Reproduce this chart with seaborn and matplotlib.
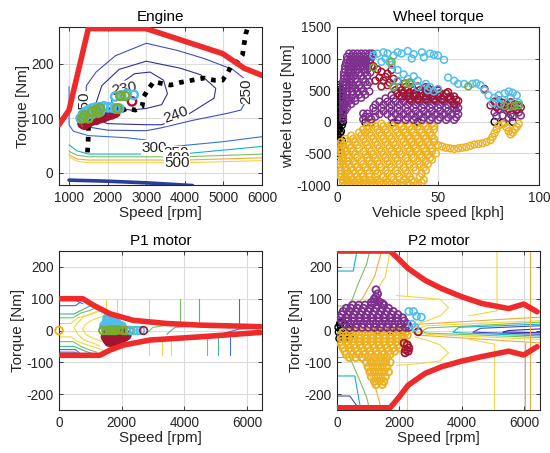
import matplotlib
matplotlib.use("Agg")
import matplotlib.pyplot as plt
import seaborn as sns

sns.set_theme(style="whitegrid")
plt.rcParams['font.family'] = ['Liberation Sans', 'DejaVu Sans']
plt.rcParams['axes.unicode_minus'] = False

# ---------------- colours ----------------
LBLUE = '#4DBEEE'; DRED = '#A2142F'; GREEN = '#77AC30'; PURPLE = '#7E2F8E'
YELLOW = '#EDB120'; BLACK = '#000000'; LIMIT = '#EE2A2A'
PB_DARK = '#30309a'; PB_BLUE = '#3f4fc0'; PB_MID = '#3a6fd8'; PB_CYAN = '#18b0cc'
PB_TEAL = '#3bb89e'; PB_GREEN = '#79c25a'; PB_ORANGE = '#f2a93b'; PB_YELLOW = '#f0d743'

# ---------------- ENGINE data ----------------
eng_max_speed = [740, 1000, 1500, 3000, 4980, 5540, 6000]
eng_max_torque = [88, 115, 265, 265, 219, 192, 179]
eng_min_speed = [1000, 2000, 3000, 4200]
eng_min_torque = [-14, -16, -19, -24]
ool_speed = [1477, 1503, 1503, 1750, 2068, 2300, 2502, 2719, 2892, 2936, 3066, 3196, 3413, 3630,
             3891, 4194, 4498, 4759, 4976, 5106, 5193, 5366, 5497, 5540, 5583, 5644]
ool_torque = [37, 71, 92, 100, 106, 112, 118, 115, 121, 140, 155, 167, 164, 161,
              166, 170, 174, 170, 170, 183, 195, 204, 217, 238, 256, 270]
bsfc230_s = [2150, 2080, 2300, 2700, 3100, 3450, 3550, 3400, 3000, 2600, 2150]
bsfc230_t = [120, 140, 162, 182, 185, 170, 145, 125, 118, 115, 120]
bsfc240_s = [1700, 2000, 3000, 3400, 4064, 4759, 4802, 4411, 3891, 3000, 2300, 1850, 1700, 1700]
bsfc240_t = [98, 90, 88, 88, 106, 137, 155, 180, 192, 205, 190, 160, 128, 98]
bsfc250_s = [1420, 1480, 2000, 3000, 3370, 4200, 5106, 5453, 5570, 5590, 5453, 5236, 4498, 3800, 3000, 2200, 1700, 1450, 1420]
bsfc250_t = [115, 84, 78, 77, 82, 96, 109, 115, 130, 170, 178, 190, 210, 225, 238, 215, 185, 160, 115]
bsfc300_s = [1000, 1000, 1110, 1500, 2500, 2980, 3196, 3717, 5019, 6000]
bsfc300_t = [158, 88, 76, 68, 64, 60, 47, 48, 57, 66]
bsfc350_s = [1000, 1200, 1503, 3000, 4064, 6000]
bsfc350_t = [51, 40, 34, 34, 35, 48]
bsfc400_s = [1000, 1200, 1503, 4000, 6000]
bsfc400_t = [39, 32, 29, 29, 34]
bsfc450_s = [1000, 1200, 1500, 4000, 6000]
bsfc450_t = [33, 25, 23, 23, 27]
bsfc500_s = [1000, 1200, 1500, 4000, 6000]
bsfc500_t = [29, 21, 18, 18, 22]
bsfc_labels = ['230', '240', '250', '250', '300', '350', '400', '500']
bsfc_label_s = [2420, 3760, 5580, 1390, 3200, 3780, 3800, 3800]
bsfc_label_t = [155, 106, 150, 126, 46, 36, 27, 17]
bsfc_label_rot = [10, 20, 90, 90, 0, 0, 0, 0]

eng_red_s = [1350, 1400, 1450, 1500, 1550, 1600, 1650, 1700, 1750, 1800, 1850, 1900, 1950, 2000, 2050, 2100, 2150, 2200, 1420, 2198, 2632]
eng_red_t = [90, 88, 92, 92, 95, 96, 98, 97, 100, 100, 104, 102, 106, 105, 110, 107, 112, 110, 96, 115, 131]
eng_blue_s = [1300, 1350, 1400, 1450, 1500, 1550, 1600, 1650, 1700, 1750, 1800, 1900, 2000, 2100, 2200, 2300, 1400, 1600, 1800, 2198, 2350, 2500, 2675]
eng_blue_t = [100, 105, 110, 112, 115, 110, 118, 112, 120, 115, 120, 122, 120, 120, 118, 118, 102, 108, 112, 140, 142, 145, 143]
eng_green_s = [1350, 1400, 1503, 1600, 1700, 1750, 1800, 2250, 2328, 2458]
eng_green_t = [100, 105, 100, 112, 115, 110, 118, 118, 141, 141]

# ---------------- WHEEL data ----------------
wh_purple_x = [6, 8, 10, 12, 14, 16, 17.5, 5, 7, 9, 11, 13, 15, 17, 5, 6.5, 8.5, 10.5, 12.5, 14.5, 16.5,
               4.5, 6, 8, 10, 12, 14, 16, 4, 5.5, 7.5, 9.5, 11.5, 13.5, 15.5, 17, 4, 6, 8, 10, 13, 15,
               3.5, 5.5, 7, 9, 11, 14, 16.5, 3.5, 5, 6.5, 8, 12, 15, 3.5, 5, 7, 9, 13, 3, 4.5, 6.5, 10, 14, 16,
               3, 4.5, 6, 8, 11, 15, 3, 4.5, 7, 9, 12, 3, 5, 7.5, 10, 13, 16, 3, 5, 8, 11, 14, 3, 4.5, 7, 9, 12,
               3, 5, 6, 9, 3, 4, 7, 3, 5, 3, 4, 3, 13, 15, 3, 14, 16, 19, 3, 13, 17,
               27, 31, 35, 39, 43, 47, 24, 28, 32, 36, 40, 44, 48, 52, 56, 21, 25, 29, 33, 37, 41, 45, 49, 53, 57,
               19, 23, 27, 31, 35, 39, 43, 47, 51, 55, 59, 18, 22, 26, 30, 34, 38, 42, 46, 50, 54, 58, 60,
               19, 23, 27, 31, 35, 39, 43, 47, 51, 55, 59, 21, 25, 29, 33, 37, 41, 45, 49, 53, 57, 60,
               27, 31, 35, 39, 43, 47, 51, 55, 59, 30, 34, 38, 42, 46, 50, 54, 58,
               78, 80, 82, 84, 86, 88, 90, 85, 81, 87, 89, 83, 79, 91]
wh_purple_y = [1080] * 7 + [1030] * 7 + [980] * 7 + [930] * 7 + [880] * 8 + [830] * 6 + [780] * 7 + [730] * 6 + [680] * 5 + \
              [630] * 6 + [580] * 6 + [530] * 5 + [480] * 6 + [430] * 5 + [380] * 5 + [330] * 4 + [280] * 3 + [230] * 2 + [180] * 2 + \
              [130] * 3 + [80] * 4 + [40] * 3 + \
              [420] * 6 + [370] * 9 + [320] * 10 + [270] * 11 + [220] * 12 + [170] * 11 + [120] * 11 + [70] * 9 + [30] * 8 + \
              [150, 200, 100, 180, 120, 220, 150, 60, 250, 80, 200, 230, 90, 100]

wh_yellow_x = [4, 6, 8, 10, 12, 14, 16, 18, 20, 22, 24, 26, 28, 30, 33, 36, 40,
               3, 5, 7, 9, 11, 13, 15, 17, 19, 21, 23, 25, 29, 32, 35, 38, 42,
               3, 5, 8, 11, 14, 17, 20, 24, 28, 33, 37, 43,
               2, 4, 7, 10, 13, 16, 19, 23, 27, 31, 36, 41,
               2, 4, 6, 9, 12, 16, 20, 25, 30, 35, 42,
               2, 5, 8, 11, 15, 19, 24, 29, 34, 39, 44,
               1.5, 4, 7, 10, 14, 18, 22, 27, 33, 38, 43,
               1.5, 3, 6, 9, 13, 17, 21, 26, 31, 36, 41, 45,
               1, 3, 5, 8, 12, 16, 20, 25, 30, 35, 40, 44,
               1, 3, 6, 10, 15, 19, 24, 29, 34, 38, 42, 46,
               1, 2.5, 5, 9, 14, 18, 23, 28, 32, 37, 41, 45,
               1, 2, 4, 8, 13, 17, 22, 27, 31, 36, 40, 44, 47,
               1, 2, 4, 7, 11, 16, 21, 26, 30, 35, 39, 43, 47,
               1, 3, 6, 10, 15, 20, 25, 29, 34, 38, 42, 46,
               2, 5, 9, 14, 19, 24, 28, 33, 37, 41, 45, 48,
               4, 8, 13, 18, 23, 27, 32, 36, 40, 44, 48,
               7, 12, 17, 22, 26, 31, 35, 39, 43, 47,
               11, 14, 16, 21, 25, 30, 34, 38, 42, 46,
               13, 15, 20, 24, 29, 33, 37, 41, 45, 48,
               15, 19, 23, 28, 32, 36, 40, 44, 48,
               17, 22, 27, 31, 35, 39, 43, 47,
               50, 52, 54, 56, 58, 60, 62, 64, 66, 68, 70, 72, 74, 76, 77, 78, 79, 80, 82, 84, 85, 86, 87, 88, 89, 90, 83, 49, 47]
wh_yellow_y = [-1000] * 17 + [-960] * 17 + [-920] * 12 + [-870] * 12 + [-820] * 11 + [-770] * 11 + [-720] * 11 + \
              [-670] * 12 + [-620] * 12 + [-570] * 12 + [-520] * 12 + [-470] * 13 + [-420] * 13 + [-370] * 12 + \
              [-320] * 12 + [-270] * 11 + [-220] * 10 + [-170] * 10 + [-120] * 10 + [-70] * 9 + [-30] * 8 + \
              [-370, -390, -410, -420, -430, -420, -410, -400, -380, -360, -350, -340, -320, -290, -240, -180, -120,
               -60, -40, -90, -150, -200, -170, -120, -80, -30, -20, -500, -600]

wh_red_x = [28, 31, 34, 37, 40, 44, 29, 32, 35, 38, 41, 44, 47, 50, 30, 33, 36, 39, 42, 45, 48, 51, 54,
            32, 35, 38, 41, 44, 47, 50, 53, 56, 58, 36, 40, 44, 48, 52, 56, 59,
            18, 20, 22, 25, 27, 24, 21, 19, 23, 26, 28, 30, 25, 22, 33, 36, 40, 45, 50, 55, 60, 58,
            73, 76, 78, 80, 82, 84, 86, 88, 90, 79, 85, 89, 91]
wh_red_y = [550] * 6 + [500] * 8 + [450] * 9 + [400] * 10 + [350] * 7 + \
           [880, 830, 790, 760, 820, 710, 700, 650, 650, 620, 680, 640, 580, 560, 600, 620, 560, 530, 500, 470, 330, 280,
            520, 260, 320, 340, 300, 270, 310, 280, 260, 230, 200, 190, 230]

wh_blue_x = [18, 20, 23, 25, 28, 30, 32, 35, 38, 43, 48, 50, 53, 22, 27, 30, 33, 35, 38, 40, 44, 46, 48, 50, 30, 28,
             40, 36, 45, 55, 58, 60, 63, 67, 69, 71, 73, 75, 78, 80, 83, 85, 87, 89, 86, 82, 90, 77, 81, 24, 26, 37, 42, 46]
wh_blue_y = [1050, 1080, 1100, 1080, 1050, 1100, 1080, 1120, 1070, 1020, 1060, 1050, 980, 950, 900, 820, 750, 680, 720,
             650, 600, 550, 480, 520, 650, 550, 550, 600, 500, 700, 650, 600, 600, 600, 610, 580, 500, 420, 380, 420, 450,
             480, 460, 420, 380, 350, 300, 300, 280, 1000, 950, 1000, 1100, 1080]

wh_green_x = [18, 27, 28, 34, 36, 65, 83, 86, 88, 90]
wh_green_y = [860, 950, 560, 610, 620, 560, 250, 240, 250, 260]

wh_black_x = [0.5, 1, 0.5, 1.5, 0.5, 1, 0.5, 1.5, 0.5, 1, 0.5, 1.5, 0.5, 1, 0.5, 1.5, 0.5, 1, 0.5, 1.5, 0.5, 1, 0.5, 1.5,
              0.5, 1, 0.5, 1, 2.5, 3, 2.5, 2, 2, 3, 2, 2.5,
              14, 17, 28, 40, 78, 82, 87]
wh_black_y = [580, 540, 500, 460, 420, 380, 340, 300, 260, 220, 180, 140, 100, 60, 20, -20, -60, -100, -140, -180, -220,
              -260, -300, -340, -380, -420, -460, -500, 50, 0, -50, 150, -150, 300, 400, -300,
              -10, -15, -15, 0, 0, -10, 0]

# ---------------- P1 motor data ----------------
p1_up_s = [0, 760, 1090, 1620, 2370, 3440, 4500, 6430]
p1_up_t = [100, 100, 80, 53, 32, 22, 17, 12]
p1_lo_s = [0, 1300, 1620, 2050, 2900, 4500, 6430]
p1_lo_t = [-78, -78, -62, -46, -30, -20, -6]

p1_b1_s = [0, 530, 760];            p1_b1_t = [95, 95, 84]
p1_b2_s = [0, 520, 700];            p1_b2_t = [78, 78, 90]
p1_g1_s = [0, 480, 760, 1050];      p1_g1_t = [52, 52, 66, 80]
p1_g2_s = [0, 450, 700, 950, 1150]; p1_g2_t = [40, 40, 55, 62, 70]
p1_y1_s = [0, 380, 600, 900, 1150, 1400]; p1_y1_t = [22, 22, 40, 48, 58, 62]
p1_y2_s = [1300, 1050, 800, 600, 480, 600, 800, 1050, 1300]; p1_y2_t = [62, 52, 45, 25, 8, -12, -30, -38, -48]
p1_y3_s = [1450, 1100, 850, 750, 850, 1100, 1400]; p1_y3_t = [45, 35, 20, 5, -12, -25, -35]
p1_y1l_s = [0, 380, 600, 900, 1200, 1400]; p1_y1l_t = [-20, -20, -35, -45, -55, -62]
p1_g2l_s = [0, 450, 700, 950, 1200]; p1_g2l_t = [-35, -35, -50, -60, -68]
p1_g1l_s = [0, 480, 760, 1100];     p1_g1l_t = [-50, -50, -62, -74]
p1_b2l_s = [0, 520, 720];           p1_b2l_t = [-60, -60, -76]
p1_b1l_s = [0, 500, 700];           p1_b1l_t = [-68, -68, -78]
p1_vy_s = [1495, 1836, 2882];       p1_vy_top = [57, 45, 28]
p1_vyl_s = [2882, 3277, 3576];      p1_vyl_bot = [-30, -27, -25]
p1_t3_s = [3440, 3700, 4240, 4600]; p1_t3_t = [-12, 10, 14, 14]
p1_b3_s = [5253, 5733, 6000];       p1_b3_t = [-9, 4, 6]
p1_g3_s = [2840, 3000, 3480];       p1_g3_t = [-5, 10, 17]

p1_blue_s = [1500, 1550, 1600, 1650, 1700, 1750, 1800, 1850, 1900, 1950, 1600, 1700, 1800, 1500, 1450, 1650, 2000, 1550]
p1_blue_t = [20, 30, 35, 25, 30, 35, 25, 20, 15, 10, 15, 18, 10, 10, 15, 8, 12, 38]
p1_red_s = [1500, 1550, 1600, 1650, 1700, 1750, 1800, 1850, 1900, 1950, 2000, 2050, 2100, 2150, 1550, 1650, 1750, 1850,
            1950, 2050, 1600, 1700, 1800, 1900]
p1_red_t = [-20, -28, -32, -25, -30, -33, -28, -25, -30, -22, -25, -20, -18, -15, -12, -15, -18, -15, -12, -10, -35, -36,
            -35, -33]
p1_green_s = [1400, 1500, 1600, 1700, 1800, 1900, 2050, 2150, 2250, 1650, 1750]
p1_green_t = [0, 0, 0, 0, 0, 2, 0, 0, 0, 2, 2]
p1_blue2_s = [2300, 2400, 2500, 2600]
p1_blue2_t = [0, 0, 0, 0]
p1_red2_s = [2700]; p1_red2_t = [0]
p1_yel_s = [0]; p1_yel_t = [0]

# ---------------- P2 motor data ----------------
p2_up_s = [0, 1700, 1960, 2280, 2820, 3350, 4000, 4640, 5500, 5980, 6410]
p2_up_t = [250, 250, 226, 195, 158, 132, 106, 85, 69, 83, 59]
p2_lo_s = [0, 1700, 1960, 2280, 2820, 3350, 4000, 4640, 5500, 5980, 6410]
p2_lo_t = [-243, -243, -213, -172, -135, -114, -96, -82, -65, -77, -51]

p2_cy_top_s = [0, 520, 640];              p2_cy_top_t = [187, 187, 250]
p2_gr_top_s = [0, 410, 675, 945, 1050];   p2_gr_top_t = [77, 77, 146, 208, 250]
p2_or_top_s = [300, 569, 836, 1212, 1428]; p2_or_top_t = [45, 67, 104, 172, 250]
p2_ye_top_s = [1300, 1550, 1700];         p2_ye_top_t = [130, 170, 250]
p2_yv_top_s = [2230, 2230];               p2_yv_top_t = [250, 108]
p2_yloop_s = [1900, 2660, 3300, 3570, 3300, 2870, 2500]; p2_yloop_t = [110, 104, 98, 72, 46, 30, 20]
p2_yloopb_s = [1900, 2660, 3300, 3570, 3300, 2870, 2500]; p2_yloopb_t = [-110, -104, -96, -70, -45, -30, -20]
p2_cy_bot_s = [0, 570, 730, 760];         p2_cy_bot_t = [-143, -143, -232, -250]
p2_db_bot_s = [0, 410, 675, 690];         p2_db_bot_t = [-206, -206, -242, -250]
p2_gr_bot_s = [0, 410, 700, 950, 1050];   p2_gr_bot_t = [-85, -85, -150, -210, -250]
p2_or_bot_s = [300, 569, 836, 1212, 1428]; p2_or_bot_t = [-45, -67, -104, -172, -250]
p2_yv_bot_s = [2230, 2230];               p2_yv_bot_t = [-250, -110]
p2_fan_or_s = [2400, 2660, 6500];  p2_fan_or_t = [5, 20, 42];   p2_fan_orl_t = [-5, -15, -39]
p2_fan_ye_s = [2500, 2870, 6500];  p2_fan_ye_t = [4, 15, 31];   p2_fan_yel_t = [-4, -12, -28]
p2_fan_gr_s = [2700, 2900, 6500];  p2_fan_gr_t = [-3, 8, 26];   p2_fan_grl_t = [-3, -8, -22]
p2_fan_te_s = [3720, 3900, 6500];  p2_fan_te_t = [-5, 10, 20];  p2_fan_tel_t = [-5, -7, -17]
p2_fan_bl_s = [4360, 4600, 6500];  p2_fan_bl_t = [-5, 7, 15];   p2_fan_bll_t = [-5, -6, -12]
p2_fan_db_s = [5320, 5500, 6500];  p2_fan_db_t = [-5, 0, 5];    p2_fan_dbl_t = [-5, -5, -7]
p2_v5_s = [5125, 5125, 4212];  p2_v5_t = [250, 62, 46]
p2_v5l_s = [5050, 5050, 4212]; p2_v5l_t = [-250, -43, -27]
p2_v6_s = [6196, 6196];        p2_v6_t = [250, -250]
p2_v6b_s = [6013, 6013];       p2_v6b_t = [-40, -250]

p2_purple_s = [500, 700, 900, 1100, 1300, 1500,
               300, 450, 650, 850, 1050, 1250, 1450, 1650,
               200, 400, 600, 800, 1000, 1200, 1400, 1600, 1800,
               150, 350, 550, 750, 950, 1150, 1350, 1550, 1750, 1950,
               100, 300, 500, 700, 900, 1100, 1300, 1500, 1700, 1900, 2100,
               150, 350, 550, 750, 950, 1150, 1350, 1550, 1750, 1950, 2150,
               250, 450, 650, 850, 1050, 1250, 1450, 1650, 1850, 2050, 2250,
               400, 600, 800, 1000, 1200, 1400, 1600, 1800, 2000, 2200, 2300,
               1200, 1350, 1250, 1300, 1250, 1200, 1100, 1450]
p2_purple_t = [80] * 6 + [70] * 8 + [60] * 9 + [50] * 10 + [40] * 11 + [30] * 11 + [20] * 11 + [10] * 11 + \
              [90, 90, 105, 115, 128, 100, 88, 85]
p2_yellow_s = [200, 400, 600, 800, 1000, 1200, 1400, 1600, 1800, 2000, 2200,
               100, 300, 500, 700, 900, 1100, 1300, 1500, 1700, 1900, 2100, 2250,
               150, 350, 550, 750, 950, 1150, 1350, 1550, 1750, 1950, 2150,
               100, 300, 500, 700, 900, 1100, 1300, 1500, 1700, 1900, 2100,
               150, 350, 550, 750, 950, 1150, 1350, 1550, 1750, 1950,
               200, 400, 600, 800, 1000, 1200, 1400, 1600, 1800, 2000,
               250, 450, 650, 850, 1050, 1250, 1450, 1650, 1850,
               300, 500, 700, 900, 1100, 1300, 1500, 1700,
               400, 600, 800, 1000, 1200, 1400, 1600,
               950, 1100, 1250, 1400, 1550, 1700,
               1000, 1150, 1300, 1450, 1600,
               1050, 1200, 1350, 1500, 1650,
               1100, 1250, 1400, 1550,
               1200, 1350, 1500,
               1250, 1450]
p2_yellow_t = [-5] * 11 + [-15] * 12 + [-25] * 11 + [-35] * 11 + [-45] * 10 + [-55] * 10 + [-65] * 9 + [-75] * 8 + \
              [-85] * 7 + [-100] * 6 + [-115] * 5 + [-130] * 5 + [-145] * 4 + [-160] * 3 + [-170] * 2
p2_red_s = [2150, 2250, 2200, 2300, 2180, 2280, 2600]
p2_red_t = [-40, -45, -60, -55, -70, -65, -4]
p2_blue_s = [2300, 2450, 2550, 2700, 2400, 2500]
p2_blue_t = [60, 60, 45, 42, 20, 10]
p2_black_s = [50, 100, 150, 200, 250, 300, 350, 400, 80, 120, 180, 250, 420, 60, 1300, 1700, 2100]
p2_black_t = [10, 20, 0, -15, 15, -10, 5, -20, -25, 25, -20, -25, 10, -5, 2, 0, 2]

# ---------------- figure ----------------
fig = plt.figure(figsize=(5.5, 4.53), dpi=100)
ax_e = fig.add_axes([0.1073, 0.5916, 0.369, 0.3488])
ax_w = fig.add_axes([0.6127, 0.5916, 0.3673, 0.3488])
ax_1 = fig.add_axes([0.1073, 0.0949, 0.369, 0.351])
ax_2 = fig.add_axes([0.6127, 0.0949, 0.369, 0.351])

TXT = '#262626'


def style(ax, title, xl, yl):
    ax.set_facecolor('white')
    ax.grid(True, color='#dcdcdc', lw=0.8)
    ax.set_axisbelow(True)
    for sp in ax.spines.values():
        sp.set_color(TXT)
        sp.set_linewidth(0.8)
    ax.tick_params(direction='in', length=3, width=0.6, colors=TXT, labelsize=9.8,
                   top=True, right=True, bottom=True, left=True, pad=4)
    ax.set_title(title, fontsize=11, color='black', pad=4)
    ax.set_xlabel(xl, fontsize=11, color=TXT, labelpad=1)
    ax.set_ylabel(yl, fontsize=11, color=TXT, labelpad=1)


def pl(ax, xs, ys, c, lw=0.8, **kw):
    ax.plot(xs, ys, color=c, lw=lw, **kw)


def sc(ax, xs, ys, c, s=18, lw=0.9, clip=True, z=4):
    sns.scatterplot(x=xs, y=ys, ax=ax, marker='o', s=s, color=c, facecolor='none', edgecolor=c,
                    linewidth=lw, legend=False, zorder=z, clip_on=clip)


# ---- Engine ----
for xs, ys, c in [(bsfc230_s, bsfc230_t, PB_DARK), (bsfc240_s, bsfc240_t, PB_DARK), (bsfc250_s, bsfc250_t, PB_BLUE),
                  (bsfc300_s, bsfc300_t, PB_MID), (bsfc350_s, bsfc350_t, PB_CYAN), (bsfc400_s, bsfc400_t, PB_GREEN),
                  (bsfc450_s, bsfc450_t, PB_ORANGE), (bsfc500_s, bsfc500_t, PB_YELLOW)]:
    pl(ax_e, xs, ys, c, lw=0.8)
for lab, xs, ys, r in zip(bsfc_labels, bsfc_label_s, bsfc_label_t, bsfc_label_rot):
    ax_e.text(xs, ys, lab, fontsize=11, rotation=r, ha='center', va='center', color=TXT,
              bbox=dict(fc='white', ec='none', pad=0.3), zorder=3)
pl(ax_e, eng_min_speed, eng_min_torque, '#2b3f9a', lw=2.6)
pl(ax_e, ool_speed, ool_torque, 'black', lw=3.4, linestyle=(0, (1, 1.3)), zorder=3.5)
sns.lineplot(x=eng_max_speed, y=eng_max_torque, ax=ax_e, sort=False, estimator=None, color=LIMIT, lw=4, zorder=5)
sc(ax_e, eng_red_s, eng_red_t, DRED, s=36, lw=1.7)
sc(ax_e, eng_blue_s, eng_blue_t, LBLUE, s=36, lw=1.7)
sc(ax_e, eng_green_s, eng_green_t, GREEN, s=36, lw=1.7)
ax_e.set_xlim(740, 6000)
ax_e.set_ylim(-23, 268)
ax_e.set_xticks([1000, 2000, 3000, 4000, 5000, 6000])
ax_e.set_yticks([0, 100, 200])
style(ax_e, 'Engine', 'Speed [rpm]', 'Torque [Nm]')

# ---- Wheel torque ----
sc(ax_w, wh_black_x, wh_black_y, BLACK, s=24, lw=1.0)
sc(ax_w, wh_yellow_x, wh_yellow_y, YELLOW, s=24, lw=1.1)
sc(ax_w, wh_purple_x, wh_purple_y, PURPLE, s=24, lw=1.1)
sc(ax_w, wh_red_x, wh_red_y, DRED, s=24, lw=1.1)
sc(ax_w, wh_blue_x, wh_blue_y, LBLUE, s=24, lw=1.1)
sc(ax_w, wh_green_x, wh_green_y, GREEN, s=24, lw=1.1)
ax_w.set_xlim(0, 100)
ax_w.set_ylim(-1000, 1500)
ax_w.set_xticks([0, 50, 100])
ax_w.set_yticks([-1000, -500, 0, 500, 1000, 1500])
style(ax_w, 'Wheel torque', 'Vehicle speed [kph]', 'wheel torque [Nm]')

# ---- P1 motor ----
for xs, ys, c in [(p1_b1_s, p1_b1_t, PB_MID), (p1_b2_s, p1_b2_t, PB_MID), (p1_g1_s, p1_g1_t, PB_TEAL),
                  (p1_g2_s, p1_g2_t, PB_GREEN), (p1_y1_s, p1_y1_t, PB_YELLOW), (p1_y2_s, p1_y2_t, PB_YELLOW),
                  (p1_y3_s, p1_y3_t, PB_YELLOW), (p1_y1l_s, p1_y1l_t, PB_YELLOW), (p1_g2l_s, p1_g2l_t, PB_GREEN),
                  (p1_g1l_s, p1_g1l_t, PB_TEAL), (p1_b2l_s, p1_b2l_t, PB_MID), (p1_b1l_s, p1_b1l_t, PB_MID),
                  (p1_t3_s, p1_t3_t, PB_TEAL), (p1_b3_s, p1_b3_t, PB_MID), (p1_g3_s, p1_g3_t, PB_GREEN)]:
    pl(ax_1, xs, ys, c)
for xv, yv in zip(p1_vy_s, p1_vy_top):
    pl(ax_1, [xv, xv], [100, yv], PB_YELLOW)
for xv, yv in zip(p1_vyl_s, p1_vyl_bot):
    pl(ax_1, [xv, xv], [-77, yv], PB_YELLOW)
pl(ax_1, [3865, 3865], [100, 21], PB_GREEN)
pl(ax_1, [4740, 4740], [-77, -18], PB_GREEN)
pl(ax_1, [4484, 4484], [100, 18], PB_TEAL)
pl(ax_1, [5071, 5071], [-77, -15], PB_TEAL)
pl(ax_1, [5733, 5733], [100, 13], PB_MID)
pl(ax_1, [5445, 5445], [-77, -12], PB_MID)
sns.lineplot(x=p1_up_s, y=p1_up_t, ax=ax_1, sort=False, estimator=None, color=LIMIT, lw=4, zorder=5)
sns.lineplot(x=p1_lo_s, y=p1_lo_t, ax=ax_1, sort=False, estimator=None, color=LIMIT, lw=4, zorder=5)
sc(ax_1, p1_blue_s, p1_blue_t, LBLUE, s=34, lw=1.8)
sc(ax_1, p1_red_s, p1_red_t, DRED, s=34, lw=1.8)
sc(ax_1, p1_green_s, p1_green_t, GREEN, s=30, lw=1.4)
sc(ax_1, p1_blue2_s, p1_blue2_t, LBLUE, s=30, lw=1.2)
sc(ax_1, p1_red2_s, p1_red2_t, DRED, s=30, lw=1.2)
sc(ax_1, p1_yel_s, p1_yel_t, YELLOW, s=30, lw=1.4, clip=False)
ax_1.set_xlim(0, 6480)
ax_1.set_ylim(-250, 250)
ax_1.set_xticks([0, 2000, 4000, 6000])
ax_1.set_yticks([-200, -100, 0, 100, 200])
style(ax_1, 'P1 motor', 'Speed [rpm]', 'Torque [Nm]')

# ---- P2 motor ----
for xs, ys, c in [(p2_cy_top_s, p2_cy_top_t, PB_CYAN), (p2_gr_top_s, p2_gr_top_t, PB_GREEN),
                  (p2_or_top_s, p2_or_top_t, PB_ORANGE), (p2_ye_top_s, p2_ye_top_t, PB_YELLOW),
                  (p2_yv_top_s, p2_yv_top_t, PB_YELLOW), (p2_yloop_s, p2_yloop_t, PB_YELLOW),
                  (p2_yloopb_s, p2_yloopb_t, PB_YELLOW), (p2_cy_bot_s, p2_cy_bot_t, PB_CYAN),
                  (p2_db_bot_s, p2_db_bot_t, PB_BLUE), (p2_gr_bot_s, p2_gr_bot_t, PB_GREEN),
                  (p2_or_bot_s, p2_or_bot_t, PB_ORANGE), (p2_yv_bot_s, p2_yv_bot_t, PB_YELLOW),
                  (p2_fan_or_s, p2_fan_or_t, PB_ORANGE), (p2_fan_or_s, p2_fan_orl_t, PB_ORANGE),
                  (p2_fan_ye_s, p2_fan_ye_t, PB_YELLOW), (p2_fan_ye_s, p2_fan_yel_t, PB_YELLOW),
                  (p2_fan_gr_s, p2_fan_gr_t, PB_GREEN), (p2_fan_gr_s, p2_fan_grl_t, PB_GREEN),
                  (p2_fan_te_s, p2_fan_te_t, PB_CYAN), (p2_fan_te_s, p2_fan_tel_t, PB_CYAN),
                  (p2_fan_bl_s, p2_fan_bl_t, PB_BLUE), (p2_fan_bl_s, p2_fan_bll_t, PB_BLUE),
                  (p2_fan_db_s, p2_fan_db_t, PB_DARK), (p2_fan_db_s, p2_fan_dbl_t, PB_DARK),
                  (p2_v5_s, p2_v5_t, PB_YELLOW), (p2_v5l_s, p2_v5l_t, PB_YELLOW),
                  (p2_v6_s, p2_v6_t, PB_ORANGE), (p2_v6b_s, p2_v6b_t, PB_ORANGE)]:
    pl(ax_2, xs, ys, c)
sns.lineplot(x=p2_up_s, y=p2_up_t, ax=ax_2, sort=False, estimator=None, color=LIMIT, lw=4, zorder=5)
sns.lineplot(x=p2_lo_s, y=p2_lo_t, ax=ax_2, sort=False, estimator=None, color=LIMIT, lw=4, zorder=5)
sc(ax_2, p2_black_s, p2_black_t, BLACK, s=26, lw=1.0, clip=False)
sc(ax_2, p2_yellow_s, p2_yellow_t, YELLOW, s=26, lw=1.3)
sc(ax_2, p2_purple_s, p2_purple_t, PURPLE, s=26, lw=1.3)
sc(ax_2, p2_red_s, p2_red_t, DRED, s=26, lw=1.3)
sc(ax_2, p2_blue_s, p2_blue_t, LBLUE, s=26, lw=1.2)
ax_2.set_xlim(0, 6500)
ax_2.set_ylim(-250, 250)
ax_2.set_xticks([0, 2000, 4000, 6000])
ax_2.set_yticks([-200, -100, 0, 100, 200])
style(ax_2, 'P2 motor', 'Speed [rpm]', 'Torque [Nm]')

fig.savefig('out.png', dpi=100)
